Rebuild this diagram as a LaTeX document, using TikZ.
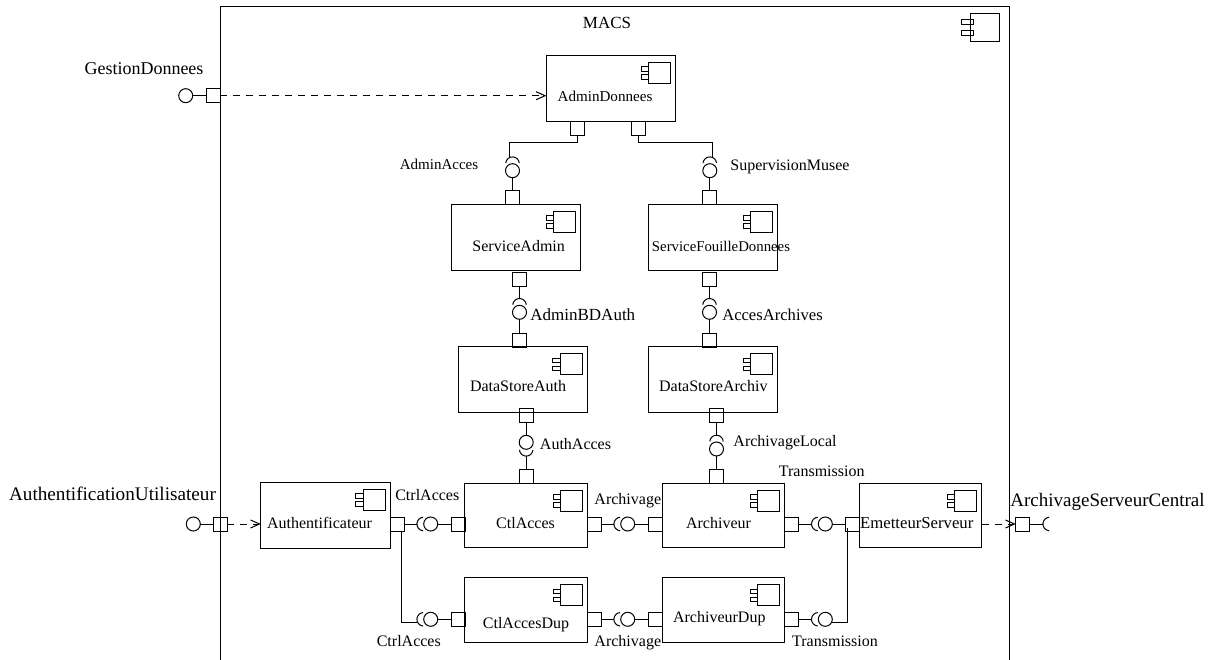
\documentclass[tikz,border=0pt]{standalone}
\usepackage{fontspec}
\setmainfont{Liberation Serif}
\usetikzlibrary{arrows.meta}
\tikzset{
    compbig/.style={draw, line width=1pt, inner sep=0pt, outer sep=0pt, minimum width=129.4pt, minimum height=66pt},
    compsmall/.style={draw, line width=1pt, inner sep=0pt, outer sep=0pt, minimum width=122.7pt, minimum height=64.7pt},
    port/.style={draw, line width=1pt, inner sep=0pt, outer sep=0pt, minimum size=14pt},
    ball/.style={draw, circle, line width=1pt, inner sep=0pt, outer sep=0pt, minimum size=14pt},
    compname/.style={anchor=base, inner sep=0pt, font=\fontsize{16}{18}\selectfont},
    iface/.style={anchor=base, inner sep=0pt, font=\fontsize{16}{18}\selectfont},
    extname/.style={anchor=base, inner sep=0pt, font=\fontsize{18.8}{20}\selectfont},
    wire/.style={line width=1pt},
    delegate/.style={line width=1pt, dash pattern=on 7pt off 6pt, -{Straight Barb[length=9pt,width=8pt]}},
    compicon/.pic={
        \draw[line width=1pt] (-22,0) rectangle (0,21);
        \draw[line width=1pt] (-29.5,4.5) rectangle (-22,9);
        \draw[line width=1pt] (-29.5,12.5) rectangle (-22,17);
    },
    compiconbig/.pic={
        \draw[line width=1pt] (-29.7,0) rectangle (0,27.6);
        \draw[line width=1pt] (-38.4,5.6) rectangle (-26.7,11);
        \draw[line width=1pt] (-38.4,16.6) rectangle (-26.7,22);
    }
}
\newcommand{\socket}[2]{\draw[wire] (#1) ++(#2-85:6.8) arc (#2-85:#2+85:6.8);}
\begin{document}
\begin{tikzpicture}[x=1pt,y=-1pt]
    \useasboundingbox (0,0) rectangle (1212,660);
    \clip (0,0) rectangle (1212,660);
    \node[draw, line width=1pt, inner sep=0pt, minimum width=788.6pt, minimum height=680pt] (macs) at (614.7,346.7) {};
    \node[anchor=base, inner sep=0pt, font=\fontsize{17}{19}\selectfont] (macsName) at (607,28.5) {MACS};
    \pic at (999.7,13.7) {compiconbig};

    \node[compbig] (adminDonnees) at (611,88.2) {};
    \node[compbig] (serviceAdmin) at (516,237.5) {};
    \node[compbig] (serviceFouille) at (713,237.5) {};
    \node[compbig] (dataStoreAuth) at (522.7,379.5) {};
    \node[compbig] (dataStoreArchiv) at (713,379.5) {};
    \node[compbig] (authentificateur) at (325.5,515.4) {};
    \node[compsmall] (ctlAcces) at (526.3,515.4) {};
    \node[compsmall] (archiveur) at (723.4,515.4) {};
    \node[compsmall] (emetteur) at (920.5,515.4) {};
    \node[compsmall] (ctlDup) at (526.3,610.3) {};
    \node[compsmall] (archDup) at (723.4,610.3) {};

    \pic at ([xshift=-5pt,yshift=-7pt]adminDonnees.north east) {compicon};
    \pic at ([xshift=-5pt,yshift=-7pt]serviceAdmin.north east) {compicon};
    \pic at ([xshift=-5pt,yshift=-7pt]serviceFouille.north east) {compicon};
    \pic at ([xshift=-5pt,yshift=-7pt]dataStoreAuth.north east) {compicon};
    \pic at ([xshift=-5pt,yshift=-7pt]dataStoreArchiv.north east) {compicon};
    \pic at ([xshift=-5pt,yshift=-7pt]authentificateur.north east) {compicon};
    \pic at ([xshift=-5pt,yshift=-7pt]ctlAcces.north east) {compicon};
    \pic at ([xshift=-5pt,yshift=-7pt]archiveur.north east) {compicon};
    \pic at ([xshift=-5pt,yshift=-7pt]emetteur.north east) {compicon};
    \pic at ([xshift=-5pt,yshift=-7pt]ctlDup.north east) {compicon};
    \pic at ([xshift=-5pt,yshift=-7pt]archDup.north east) {compicon};

    \node[compname, font=\fontsize{15.1}{17}\selectfont] (adminDonneesName) at (605,102) {AdminDonnees};
    \node[compname] (serviceAdminName) at (518.7,252) {ServiceAdmin};
    \node[compname, font=\fontsize{14.8}{17}\selectfont] (serviceFouilleName) at (721,251.3) {ServiceFouilleDonnees};
    \node[compname] (dataStoreAuthName) at (518,391.7) {DataStoreAuth};
    \node[compname] (dataStoreArchivName) at (713.3,391.7) {DataStoreArchiv};
    \node[compname] (authentificateurName) at (319.5,528.3) {Authentificateur};
    \node[compname] (ctlAccesName) at (525.5,528.3) {CtlAcces};
    \node[compname] (archiveurName) at (718.5,528.3) {Archiveur};
    \node[compname, font=\fontsize{16.7}{18}\selectfont] (emetteurName) at (916.8,528.3) {EmetteurServeur};
    \node[compname] (ctlDupName) at (526,628.7) {CtlAccesDup};
    \node[compname] (archDupName) at (719.3,622.7) {ArchiveurDup};

    \node[port] (gestionPort) at (213.4,95.7) {};
    \node[port] (adminPortA) at (577.5,129) {};
    \node[port] (adminPortB) at (638.3,129) {};
    \node[port] (svcAdminTop) at (512.5,197.2) {};
    \node[port] (svcAdminBot) at (519.5,279.5) {};
    \node[port] (svcFouilleTop) at (709.8,197.2) {};
    \node[port] (svcFouilleBot) at (709.5,279.5) {};
    \node[port] (dsAuthTop) at (519.5,340) {};
    \node[port] (dsAuthBot) at (526.2,415.3) {};
    \node[port] (dsArchTop) at (709.5,340) {};
    \node[port] (dsArchBot) at (716.5,415.3) {};
    \node[port] (ctlTop) at (526.2,476.3) {};
    \node[port] (archTop) at (716.5,476.3) {};
    \node[port] (authExt) at (220.4,524) {};
    \node[port] (authRight) at (397,524) {};
    \node[port] (ctlLeft) at (458,524) {};
    \node[port] (ctlRight) at (594.5,524) {};
    \node[port] (archLeft) at (655.3,524) {};
    \node[port] (archRight) at (791.7,524) {};
    \node[port] (emetLeft) at (852.5,524) {};
    \node[port] (emetExt) at (1022.7,524) {};
    \node[port] (dupLeft) at (458,619.3) {};
    \node[port] (dupRight) at (594.5,619.3) {};
    \node[port] (archDupLeft) at (655.3,619.3) {};
    \node[port] (archDupRight) at (791.7,619.3) {};

    \node[ball] (gestionBall) at (185.7,95.7) {};
    \node[ball] (authBall) at (193.3,524) {};
    \node[ball] (adminAccesBall) at (512.5,170.7) {};
    \node[ball] (supervisionBall) at (709.8,170.7) {};
    \node[ball] (adminBDBall) at (519.5,312.3) {};
    \node[ball] (accesArchBall) at (709.5,312.3) {};
    \node[ball] (authAccesBall) at (526.2,442.3) {};
    \node[ball] (archLocalBall) at (716.5,449) {};
    \node[ball] (ctrlBall) at (430.7,524) {};
    \node[ball] (archivageBall) at (627.7,524) {};
    \node[ball] (transBall) at (825.3,524) {};
    \node[ball] (ctrlDupBall) at (430.7,619.3) {};
    \node[ball] (archivageDupBall) at (627.7,619.3) {};
    \node[ball] (transDupBall) at (825.3,619.3) {};
    \coordinate (serveurSocket) at (1049.7,524);

    \socket{adminAccesBall.north}{270}
    \socket{supervisionBall.north}{270}
    \socket{adminBDBall.north}{270}
    \socket{accesArchBall.north}{270}
    \socket{authAccesBall.south}{90}
    \socket{archLocalBall.north}{270}
    \socket{ctrlBall.west}{180}
    \socket{archivageBall.west}{180}
    \socket{transBall.west}{180}
    \socket{ctrlDupBall.west}{180}
    \socket{archivageDupBall.west}{180}
    \socket{transDupBall.west}{180}
    \socket{serveurSocket}{180}

    \draw[wire] (gestionBall.east)--(gestionPort.west);
    \draw[delegate] (gestionPort.east)--(gestionPort.east-|adminDonnees.west);
    \draw[wire] (authBall.east)--(authExt.west);
    \draw[delegate] (authExt.east)--(authExt.east-|authentificateur.west);
    \draw[delegate] (emetteur.east|-emetExt.west)--(emetExt.west);
    \draw[wire] (emetExt.east)--([xshift=-7pt]serveurSocket);

    \draw[wire] (adminPortA.south)--++(0,6.6)-|([xshift=-3pt,yshift=7pt]adminAccesBall.north);
    \draw[wire] (adminPortB.south)--++(0,6.6)-|([xshift=3pt,yshift=7pt]supervisionBall.north);
    \draw[wire] (adminAccesBall.south)--(svcAdminTop.north);
    \draw[wire] (supervisionBall.south)--(svcFouilleTop.north);
    \draw[wire] (svcAdminBot.south)--([yshift=7pt]adminBDBall.north);
    \draw[wire] (adminBDBall.south)--(dsAuthTop.north);
    \draw[wire] (svcFouilleBot.south)--([yshift=7pt]accesArchBall.north);
    \draw[wire] (accesArchBall.south)--(dsArchTop.north);
    \draw[wire] (dsAuthBot.south)--(authAccesBall.north);
    \draw[wire] ([yshift=-7pt]authAccesBall.south)--(ctlTop.north);
    \draw[wire] (dsArchBot.south)--([yshift=7pt]archLocalBall.north);
    \draw[wire] (archLocalBall.south)--(archTop.north);

    \draw[wire] (authRight.east)--([xshift=-7pt]ctrlBall.west);
    \draw[wire] (ctrlBall.east)--(ctlLeft.west);
    \draw[wire] (ctlRight.east)--([xshift=-7pt]archivageBall.west);
    \draw[wire] (archivageBall.east)--(archLeft.west);
    \draw[wire] (archRight.east)--([xshift=-7pt]transBall.west);
    \draw[wire] (transBall.east)--(emetLeft.west);
    \draw[wire] (ctrlDupBall.east)--(dupLeft.west);
    \draw[wire] (dupRight.east)--([xshift=-7pt]archivageDupBall.west);
    \draw[wire] (archivageDupBall.east)--(archDupLeft.west);
    \draw[wire] (archDupRight.east)--([xshift=-7pt]transDupBall.west);
    \draw[wire] ([xshift=4.7pt]authRight.south)|-([xshift=-7pt,yshift=-3pt]ctrlDupBall.west);
    \draw[wire] ([xshift=-4.8pt,yshift=3pt]emetLeft.south)|-([yshift=-3pt]transDupBall.east);

    \node[extname, font=\fontsize{18}{20}\selectfont] (gestionName) at (144,75) {GestionDonnees};
    \node[extname, font=\fontsize{19.2}{21}\selectfont] (authExtName) at (112.5,500.7) {AuthentificationUtilisateur};
    \node[extname, font=\fontsize{19}{21}\selectfont] (serveurName) at (1107.5,506.7) {ArchivageServeurCentral};
    \node[iface, font=\fontsize{15}{17}\selectfont] (adminAccesName) at (439,170) {AdminAcces};
    \node[iface] (supervisionName) at (790,170.3) {SupervisionMusee};
    \node[iface, font=\fontsize{17}{19}\selectfont] (adminBDName) at (582.8,320) {AdminBDAuth};
    \node[iface, font=\fontsize{16.6}{19}\selectfont] (accesArchName) at (772.5,320) {AccesArchives};
    \node[iface] (authAccesName) at (575.5,449) {AuthAcces};
    \node[iface] (archLocalName) at (785,446.7) {ArchivageLocal};
    \node[iface] (ctrlName) at (427.3,500.7) {CtrlAcces};
    \node[iface] (archivageName) at (627.8,504) {Archivage};
    \node[iface] (transName) at (821.7,476) {Transmission};
    \node[iface] (ctrlDupName) at (408.8,646.7) {CtrlAcces};
    \node[iface] (archivageDupName) at (627.8,646.7) {Archivage};
    \node[iface] (transDupName) at (835,646.7) {Transmission};
\end{tikzpicture}
\end{document}
